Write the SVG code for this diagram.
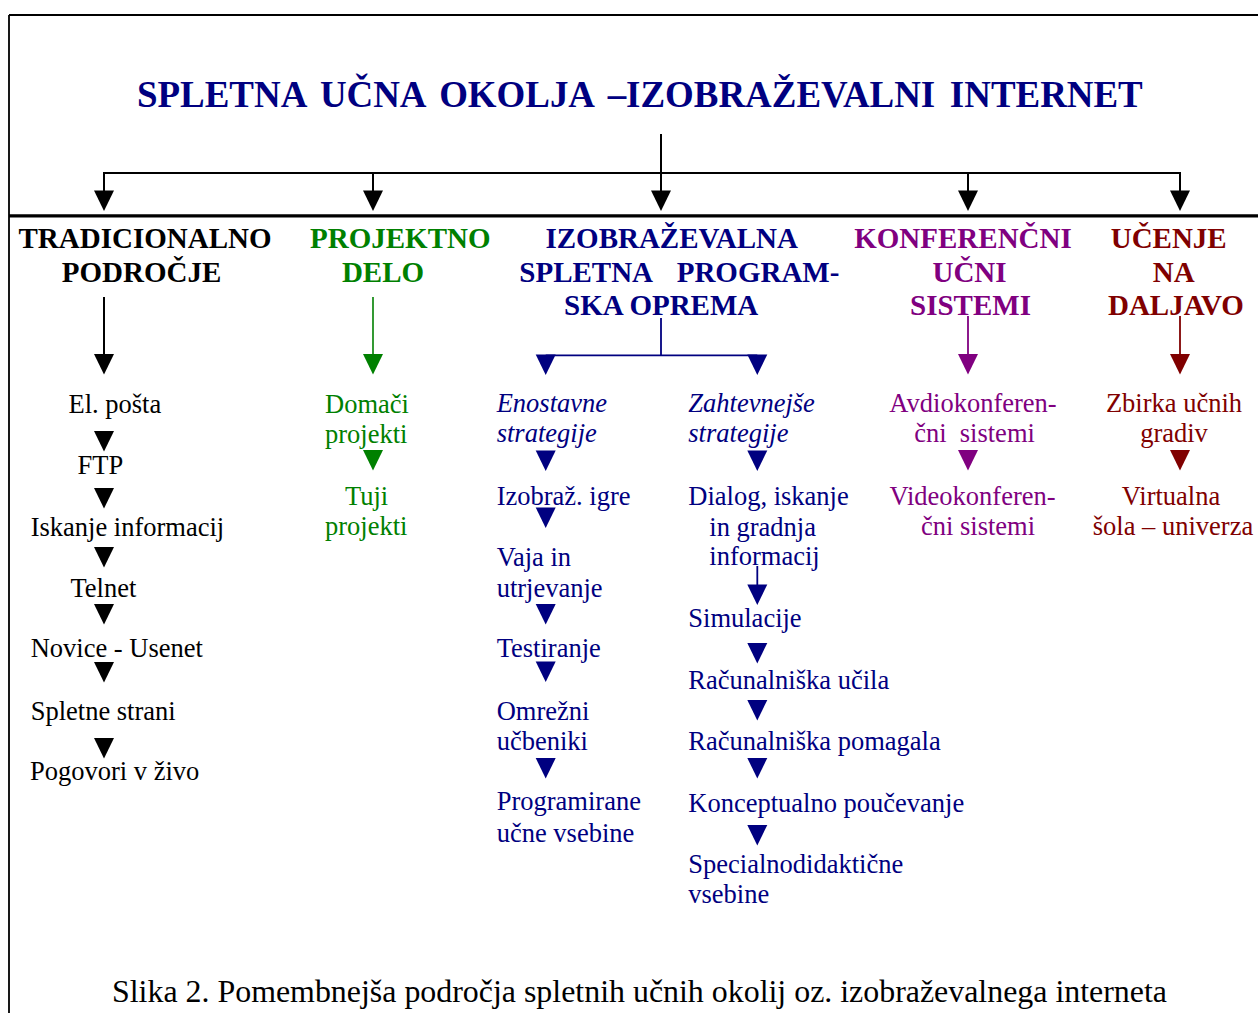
<svg xmlns="http://www.w3.org/2000/svg" width="1258" height="1013" viewBox="0 0 1258 1013">
<style>
text{font-family:"Liberation Serif","Times New Roman",serif;}
.t{font-size:26.5px;}
.h{font-size:29px;font-weight:bold;}
.i{font-style:italic;}
.c{text-anchor:middle;}
.k{fill:#000;}
.g{fill:#008000;}
.n{fill:#000080;}
.p{fill:#800080;}
.m{fill:#800000;}
.lk{stroke:#000;stroke-width:2;fill:none;}
.lg{stroke:#008000;stroke-width:1.6;fill:none;}
.ln{stroke:#000080;stroke-width:1.8;fill:none;}
.lp{stroke:#800080;stroke-width:1.8;fill:none;}
.lm{stroke:#800000;stroke-width:1.8;fill:none;}
</style>
<defs>
<path id="tri" d="M-10,0 H10 L0,20.5 Z"/>
</defs>
<rect width="1258" height="1013" fill="#fff"/>

<g id="frame">
<path d="M9,15 H1258 M9,15 V1013" stroke="#000" stroke-width="1.8" fill="none"/>
<path d="M9,215.8 H1258" stroke="#000" stroke-width="3.2" fill="none"/>
</g>

<g id="title">
<text class="n" font-size="39" font-weight="bold" word-spacing="5.7" transform="translate(137,106.5) scale(0.947,1)">SPLETNA UČNA OKOLJA –IZOBRAŽEVALNI INTERNET</text>
</g>

<g id="connectors">
<path class="lk" d="M661,134 V191 M104,191 V173 H1180 V191 M373,173 V191 M968,173 V191"/>
<use href="#tri" x="104" y="190.5" class="k"/>
<use href="#tri" x="373" y="190.5" class="k"/>
<use href="#tri" x="661" y="190.5" class="k"/>
<use href="#tri" x="968" y="190.5" class="k"/>
<use href="#tri" x="1180" y="190.5" class="k"/>

<path class="lk" d="M104,297 V356"/>
<use href="#tri" x="104" y="354" class="k"/>
<path class="lg" d="M373,297 V356"/>
<use href="#tri" x="373" y="354" class="g"/>
<path class="ln" d="M661,318 V355.3 M545.7,355.3 H757.3"/>
<use href="#tri" x="545.7" y="354.5" class="n"/>
<use href="#tri" x="757.3" y="354.5" class="n"/>
<path class="lp" d="M968,316 V356"/>
<use href="#tri" x="968" y="354" class="p"/>
<path class="lm" d="M1180,316 V356"/>
<use href="#tri" x="1180" y="354" class="m"/>

<!-- column 1 -->
<use href="#tri" x="104" y="431" class="k"/>
<use href="#tri" x="104" y="488" class="k"/>
<use href="#tri" x="104" y="547" class="k"/>
<use href="#tri" x="104" y="604" class="k"/>
<use href="#tri" x="104" y="662" class="k"/>
<use href="#tri" x="104" y="738" class="k"/>
<!-- column 2 -->
<use href="#tri" x="373" y="450" class="g"/>
<!-- column 3 left -->
<use href="#tri" x="545.7" y="450.5" class="n"/>
<use href="#tri" x="545.7" y="507.5" class="n"/>
<use href="#tri" x="545.7" y="604" class="n"/>
<use href="#tri" x="545.7" y="661.5" class="n"/>
<use href="#tri" x="545.7" y="758" class="n"/>
<!-- column 3 right -->
<use href="#tri" x="757.3" y="450.5" class="n"/>
<path class="ln" d="M757.3,566 V586"/>
<use href="#tri" x="757.3" y="584.5" class="n"/>
<use href="#tri" x="757.3" y="643" class="n"/>
<use href="#tri" x="757.3" y="700" class="n"/>
<use href="#tri" x="757.3" y="758" class="n"/>
<use href="#tri" x="757.3" y="825" class="n"/>
<!-- column 4 -->
<use href="#tri" x="968" y="450" class="p"/>
<!-- column 5 -->
<use href="#tri" x="1180" y="450" class="m"/>
</g>

<g id="tradicionalno">
<text class="h k c" x="145" y="248">TRADICIONALNO</text>
<text class="h k c" x="141.5" y="282">PODROČJE</text>
<text class="t k" x="68.5" y="413">El. pošta</text>
<text class="t k" x="77.5" y="474">FTP</text>
<text class="t k" x="30.7" y="535.7">Iskanje informacij</text>
<text class="t k" x="70.5" y="596.7">Telnet</text>
<text class="t k" x="30.7" y="657">Novice - Usenet</text>
<text class="t k" x="30.7" y="720">Spletne strani</text>
<text class="t k" x="30" y="780">Pogovori v živo</text>
</g>

<g id="projektno">
<text class="h g c" x="400.3" y="248">PROJEKTNO</text>
<text class="h g c" x="383" y="282">DELO</text>
<text class="t g" x="325" y="413">Domači</text>
<text class="t g" x="325" y="443">projekti</text>
<text class="t g" x="345" y="505">Tuji</text>
<text class="t g" x="325" y="535">projekti</text>
</g>

<g id="izobrazevalna">
<text class="h n c" x="671.7" y="248">IZOBRAŽEVALNA</text>
<text class="h n" y="282"><tspan x="519.3">SPLETNA</tspan><tspan x="676.7">PROGRAM-</tspan></text>
<text class="h n c" x="661.2" y="315">SKA OPREMA</text>
</g>

<g id="enostavne">
<text class="t n i" x="496.7" y="412">Enostavne</text>
<text class="t n i" x="496.7" y="442">strategije</text>
<text class="t n" x="496.7" y="505">Izobraž. igre</text>
<text class="t n" x="496.7" y="566">Vaja in</text>
<text class="t n" x="496.7" y="597">utrjevanje</text>
<text class="t n" x="496.7" y="657">Testiranje</text>
<text class="t n" x="496.7" y="720">Omrežni</text>
<text class="t n" x="496.7" y="750">učbeniki</text>
<text class="t n" x="496.7" y="810">Programirane</text>
<text class="t n" x="496.7" y="842">učne vsebine</text>
</g>

<g id="zahtevnejse">
<text class="t n i" x="688.3" y="412">Zahtevnejše</text>
<text class="t n i" x="688.3" y="442">strategije</text>
<text class="t n" x="688.3" y="505">Dialog, iskanje</text>
<text class="t n" x="709.3" y="536">in gradnja</text>
<text class="t n" x="709.3" y="565">informacij</text>
<text class="t n" x="688.3" y="627">Simulacije</text>
<text class="t n" x="688.3" y="689">Računalniška učila</text>
<text class="t n" x="688.3" y="750">Računalniška pomagala</text>
<text class="t n" x="688.3" y="812">Konceptualno poučevanje</text>
<text class="t n" x="688.3" y="873">Specialnodidaktične</text>
<text class="t n" x="688.3" y="903">vsebine</text>
</g>

<g id="konferencni">
<text class="h p c" x="963" y="248">KONFERENČNI</text>
<text class="h p c" x="969.5" y="282">UČNI</text>
<text class="h p c" x="970.5" y="315">SISTEMI</text>
<text class="t p c" x="973" y="412">Avdiokonferen-</text>
<text class="t p c" x="974.5" y="442" xml:space="preserve">čni  sistemi</text>
<text class="t p c" x="972.5" y="505">Videokonferen-</text>
<text class="t p c" x="978" y="535">čni sistemi</text>
</g>

<g id="ucenje">
<text class="h m c" x="1168.7" y="248">UČENJE</text>
<text class="h m c" x="1173.8" y="282">NA</text>
<text class="h m c" x="1175.9" y="315">DALJAVO</text>
<text class="t m c" x="1174" y="412">Zbirka učnih</text>
<text class="t m c" x="1174" y="442">gradiv</text>
<text class="t m c" x="1171" y="505">Virtualna</text>
<text class="t m c" x="1173" y="535">šola – univerza</text>
</g>

<g id="caption">
<text class="k" x="112" y="1002" font-size="32" textLength="1055" lengthAdjust="spacingAndGlyphs">Slika 2. Pomembnejša področja spletnih učnih okolij oz. izobraževalnega interneta</text>
</g>
</svg>
